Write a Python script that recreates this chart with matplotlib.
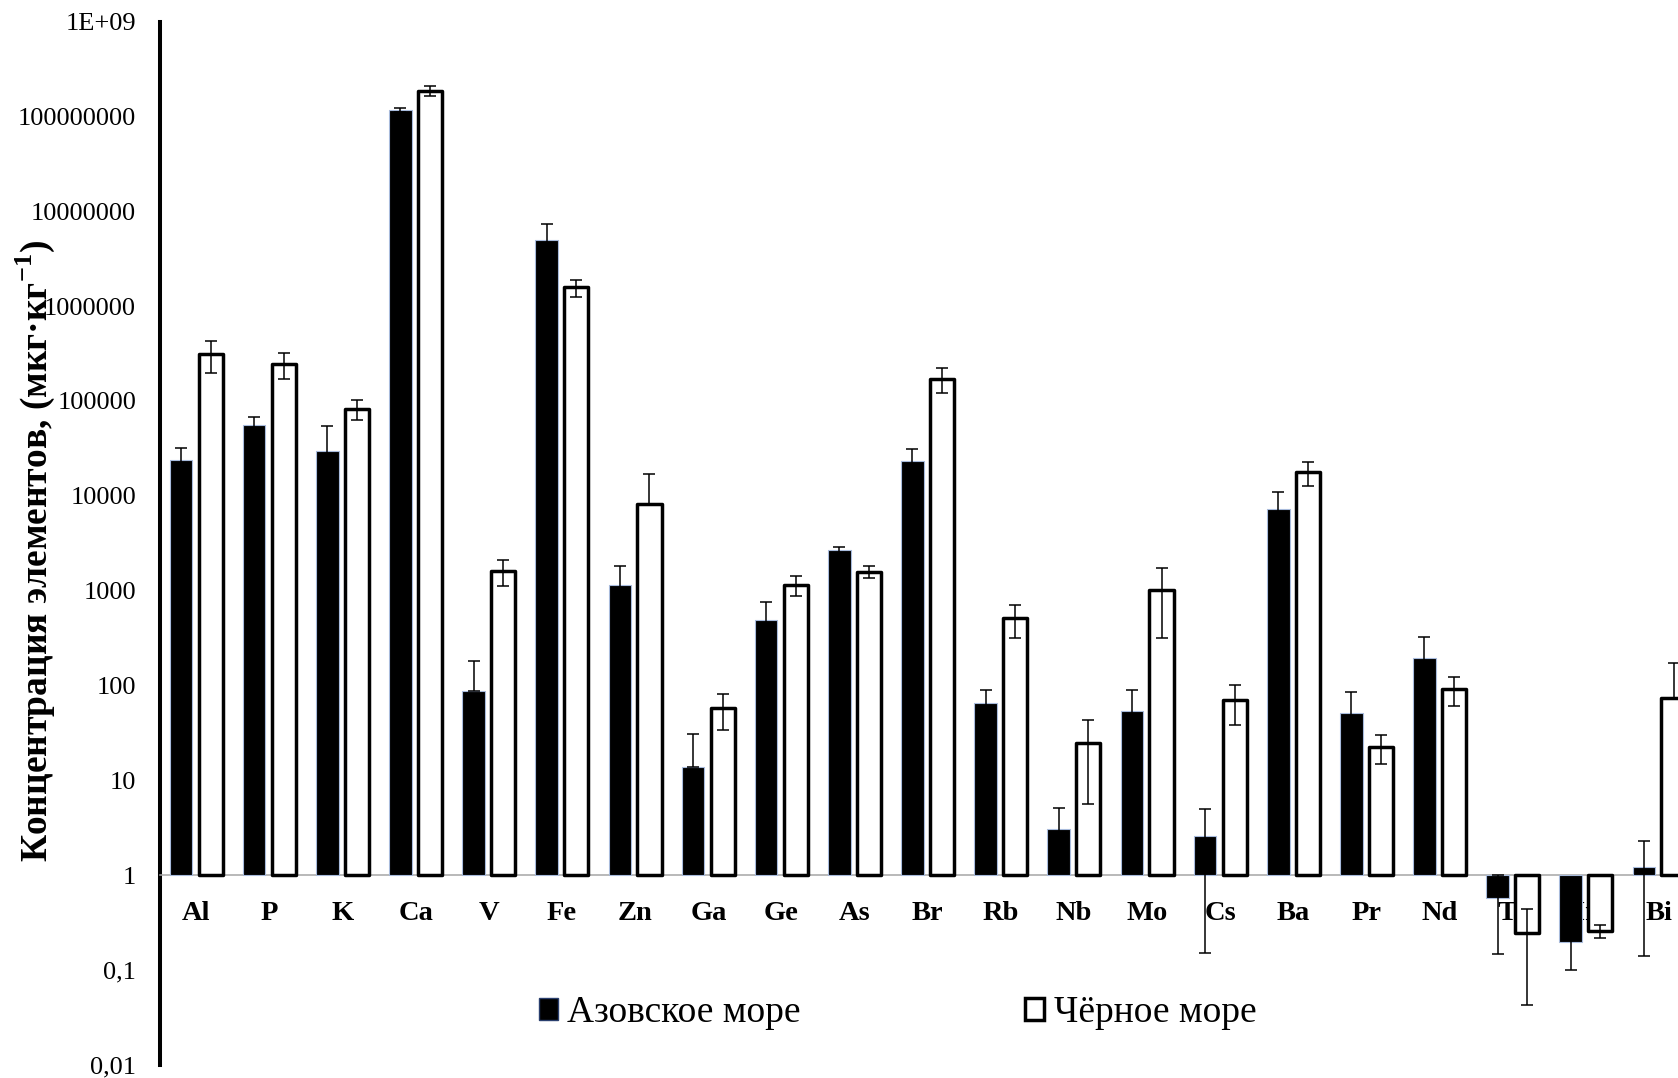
import numpy as np
import matplotlib
matplotlib.use('Agg')
from matplotlib import pyplot as plt
from matplotlib.patches import Patch
from matplotlib.ticker import FixedLocator, FixedFormatter, NullLocator

plt.rcParams['font.family'] = ['Liberation Serif', 'DejaVu Serif']
plt.rcParams['mathtext.fontset'] = 'custom'
plt.rcParams['mathtext.rm'] = 'Liberation Serif'
plt.rcParams['mathtext.bf'] = 'Liberation Serif:bold'

elements = ['Al', 'P', 'K', 'Ca', 'V', 'Fe', 'Zn', 'Ga', 'Ge', 'As', 'Br',
            'Rb', 'Nb', 'Mo', 'Cs', 'Ba', 'Pr', 'Nd', 'Ta', 'Ir', 'Bi']

# Азовское море
azov = [23900, 56000, 29500, 1.17e8, 87, 5.0e6, 1140, 13.8, 494, 2700, 23500,
        66, 3.06, 54, 2.55, 7200, 51, 193, 0.576, 0.195, 1.22]
azov_err = [8200, 11000, 24500, 5e6, 96, 2.37e6, 670, 17, 270, 190, 8000,
            24, 2.0, 36, 2.4, 3700, 35, 128, 0.43, 0.096, 1.08]

# Чёрное море
black_sea = [316000, 244000, 82400, 1.875e8, 1625, 1.58e6, 8150, 58, 1150, 1585, 172600,
             508, 24.6, 1015, 70, 17800, 22.5, 91, 0.243, 0.256, 74]
black_sea_err = [117000, 73000, 20000, 2.1e7, 500, 3.2e5, 9000, 24, 275, 235, 52000,
                 195, 19, 700, 32, 5200, 7.8, 31, 0.2, 0.038, 100]

ytick_vals = [0.01, 0.1, 1, 10, 100, 1000, 10000, 100000, 1000000,
              10000000, 100000000, 1e9]
ytick_labels = ['0,01', '0,1', '1', '10', '100', '1000', '10000', '100000',
                '1000000', '10000000', '100000000', '1E+09']

fig = plt.figure(figsize=(16.78, 10.78), dpi=100)
ax = fig.add_axes([0.0952, 0.0124, 0.9048, 0.9674])

x = np.arange(len(elements))
a = np.array(azov)
b = np.array(black_sea)
ae = np.array(azov_err)
be = np.array(black_sea_err)

# bars grow from 1 (the category axis crosses there)
ax.bar(x - 0.21, a - 1, bottom=1, width=0.31, color='black',
       edgecolor='#a8bbdc', linewidth=0.8, zorder=3)
ax.bar(x + 0.195, b - 1, bottom=1, width=0.33, facecolor='white',
       edgecolor='black', linewidth=2.5, joinstyle='round', zorder=3)

# lower part of the error bar is dropped when it would go below zero
a_lo = np.where(a - ae > 0, ae, 0)
b_lo = np.where(b - be > 0, be, 0)
ax.errorbar(x - 0.21, a, yerr=[a_lo, ae], fmt='none', ecolor='black',
            elinewidth=1.1, capsize=4, capthick=1.1, zorder=4)
ax.errorbar(x + 0.195, b, yerr=[b_lo, be], fmt='none', ecolor='black',
            elinewidth=1.1, capsize=4, capthick=1.1, zorder=4)

ax.set_yscale('log')
ax.set_ylim(0.01, 1e9)
ax.set_xlim(-0.5, 20.256)

ax.spines['top'].set_visible(False)
ax.spines['right'].set_visible(False)
ax.spines['left'].set_linewidth(2.9)
# category axis crosses at 1 (set before the ticks, it resets them)
ax.spines['bottom'].set_position(('data', 1))
ax.spines['bottom'].set_color('#a6a6a6')
ax.spines['bottom'].set_linewidth(1.1)

ax.yaxis.set_major_locator(FixedLocator(ytick_vals))
ax.yaxis.set_major_formatter(FixedFormatter(ytick_labels))
ax.yaxis.set_minor_locator(NullLocator())

ax.tick_params(axis='x', length=0, pad=19)
ax.tick_params(axis='y', length=0, pad=17, labelsize=19)
ax.set_xticks(x, elements, fontsize=20.5, fontweight='bold')
ax.set_axisbelow(True)

fig.text(35 / 1678, 1 - 551 / 1078,
         r'Концентрация элементов, (мкг·кг$^{\mathbf{-1}}$)',
         rotation=90, ha='center', va='center', fontsize=27, fontweight='bold')

handles = [Patch(facecolor='black', edgecolor='#2a3f6e', linewidth=1.0),
           Patch(facecolor='white', edgecolor='black', linewidth=2.5)]
ax.legend(handles, ['Азовское море', 'Чёрное море'], ncol=2, frameon=False,
          loc='center', bbox_to_anchor=(897.5 / 1678, 1 - 1013 / 1078),
          bbox_transform=fig.transFigure, fontsize=27, handlelength=0.5,
          handleheight=0.5, handletextpad=0.25, columnspacing=6.0)

fig.savefig('out.png', dpi=100, facecolor='white')
